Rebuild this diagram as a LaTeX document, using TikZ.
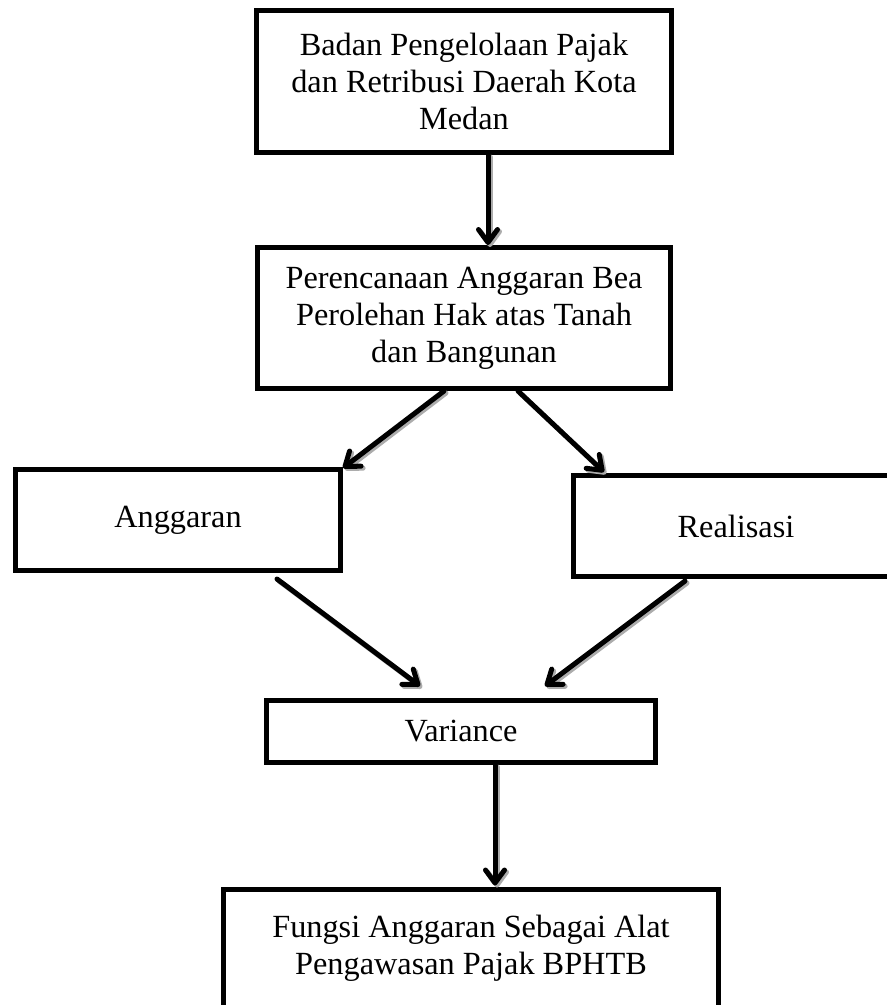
\documentclass[tikz,border=0pt]{standalone}
\usepackage{fontspec}
\setmainfont{Liberation Serif}
\usetikzlibrary{arrows.meta}
\begin{document}
\begin{tikzpicture}[x=1pt,y=-1pt,
  box/.style={draw, line width=5pt, inner sep=0pt, align=center,
    font=\fontsize{32.3}{37}\selectfont},
  arr/.style={line width=5pt, line cap=round,
    -{Straight Barb[length=13pt,width=19pt,line cap=round,line join=round]}},
  arrshadow/.style={arr, draw=gray!65, transform canvas={shift={(2pt,-2pt)}}}]
\useasboundingbox (0,0) rectangle (887,1005);
\fill[white] (0,0) rectangle (887,1005);

\node[box, minimum width=415pt, minimum height=142pt] (top) at (464,81.5)
  {Badan Pengelolaan Pajak\\dan Retribusi Daerah Kota\\Medan};
\node[box, minimum width=413pt, minimum height=141pt] (plan) at (464,318)
  {Perencanaan Anggaran Bea\\Perolehan Hak atas Tanah\\dan Bangunan};
\node[box, minimum width=325pt, minimum height=101pt] (ang) at (178,520) {Anggaran};
\node[box, minimum width=325pt, minimum height=101pt] (real) at (736,526) {Realisasi};
\node[box, minimum width=389pt, minimum height=62pt] (var) at (461,731.5) {Variance};
\node[box, minimum width=495pt, minimum height=118pt] (bot) at (471,948)
  {Fungsi Anggaran Sebagai Alat\\Pengawasan Pajak BPHTB};

% shadows
\draw[arrshadow] ([xshift=24pt]top.south) -- ([xshift=24pt]plan.north);
\draw[arrshadow] ([xshift=-20pt]plan.south) -- ([xshift=0pt,yshift=-1pt]ang.north east);
\draw[arrshadow] ([xshift=54pt]plan.south) -- ([xshift=33pt,yshift=1pt]real.north west);
\draw[arrshadow] ([xshift=99pt,yshift=-6pt]ang.south) -- ([xshift=-41pt,yshift=12pt]var.north);
\draw[arrshadow] ([xshift=-51pt,yshift=-2pt]real.south) -- ([xshift=84pt,yshift=12pt]var.north);
\draw[arrshadow] ([xshift=34pt]var.south) -- ([xshift=24pt,yshift=1pt]bot.north);

% arrows
\draw[arr] ([xshift=24pt]top.south) -- ([xshift=24pt]plan.north);
\draw[arr] ([xshift=-20pt]plan.south) -- ([xshift=0pt,yshift=-1pt]ang.north east);
\draw[arr] ([xshift=54pt]plan.south) -- ([xshift=33pt,yshift=1pt]real.north west);
\draw[arr] ([xshift=99pt,yshift=-6pt]ang.south) -- ([xshift=-41pt,yshift=12pt]var.north);
\draw[arr] ([xshift=-51pt,yshift=-2pt]real.south) -- ([xshift=84pt,yshift=12pt]var.north);
\draw[arr] ([xshift=34pt]var.south) -- ([xshift=24pt,yshift=1pt]bot.north);
\end{tikzpicture}
\end{document}
